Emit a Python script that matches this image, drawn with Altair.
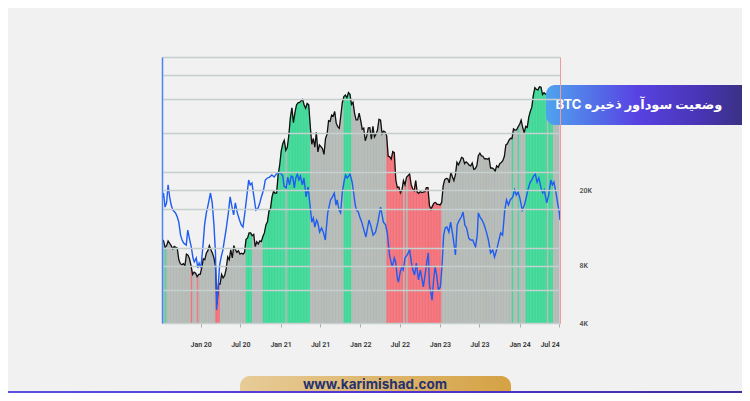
import altair as alt
import pandas as pd

# ---------------- data ----------------
# Weekly BTC price (thousand USD), Mondays starting 2019-07-08
price_2019 = [11.0, 10.8, 10.0, 10.2, 10.8, 10.5, 10.2, 9.8, 10.1, 10.0, 9.9, 8.6, 8.2,
              8.1, 8.2, 8.0, 9.2, 9.1, 8.7, 8.0, 7.2, 7.4, 7.3, 7.0, 7.2, 7.2]
price_2020 = [7.8, 8.7, 8.6, 9.3, 9.6, 10.2, 9.7, 9.3, 8.8, 7.9, 5.0, 6.4, 6.4,
              7.2, 6.9, 7.1, 7.7, 8.9, 8.6, 9.7, 8.8, 10.2, 9.7, 9.4, 9.6, 9.2,
              9.3, 9.2, 9.4, 11.0, 11.2, 11.9, 11.9, 11.5, 11.7, 10.1, 10.7, 10.4, 10.8,
              10.7, 11.4, 11.9, 13.1, 13.6, 15.5, 16.0, 18.4, 19.7, 19.2, 19.3, 24.0, 27.0]
price_2021 = [32.0, 35.0, 36.5, 32.3, 33.5, 38.9, 48.0, 54.0, 45.2, 51.0, 56.0, 57.4, 57.7,
              58.8, 59.8, 56.0, 53.8, 57.0, 56.0, 43.5, 34.8, 37.3, 33.6, 40.2, 31.7, 34.5,
              33.8, 33.0, 30.8, 37.3, 39.2, 46.3, 45.9, 49.5, 48.9, 51.7, 44.9, 43.0, 42.2,
              49.1, 57.5, 62.0, 63.1, 61.0, 65.0, 63.6, 56.3, 57.8, 50.6, 46.7, 46.7, 50.7]
price_2022 = [46.4, 41.8, 42.3, 36.3, 38.5, 42.4, 42.5, 37.0, 43.2, 38.0, 39.3, 41.3, 47.1,
              46.6, 39.5, 40.8, 40.4, 38.5, 30.1, 29.9, 29.1, 31.8, 31.4, 22.5, 20.6, 20.7,
              19.3, 20.0, 22.4, 21.3, 23.3, 23.8, 24.3, 21.4, 20.3, 19.8, 22.4, 19.5, 19.2,
              19.6, 19.4, 19.5, 19.6, 20.6, 20.6, 16.6, 15.8, 16.5, 17.1, 17.2, 16.8, 16.8]
price_2023 = [16.7, 17.2, 21.0, 22.7, 23.0, 22.9, 21.8, 24.8, 23.5, 22.4, 24.1, 28.0, 27.1,
              28.2, 29.7, 29.4, 27.5, 28.1, 27.7, 27.0, 26.8, 27.7, 25.7, 25.9, 26.8, 30.3,
              31.2, 30.2, 30.1, 29.2, 29.2, 29.0, 29.4, 26.1, 26.1, 25.8, 25.1, 26.8, 26.3,
              27.5, 27.9, 28.5, 30.0, 34.5, 35.0, 36.5, 37.4, 37.2, 41.9, 41.3, 41.4, 43.0]
price_2024 = [44.2, 46.6, 42.7, 39.9, 43.2, 42.7, 48.3, 51.8, 54.5, 63.1, 69.0, 67.6, 67.2,
              69.7, 69.4, 63.5, 64.9, 63.8, 63.2, 62.9, 66.3, 68.5, 67.8, 69.6, 66.6, 60.3, 62.7]

# Weekly profit state: g = profit (green), n = neutral (grey), r = loss (red)
state_2019 = ["nngn", "nnnn", "nnnnn", "nnnn", "nnrn", "nnrnn"]
state_2020 = ["nnnn", "nnnn", "nrrrn", "nnnn", "nnnn", "nnnnn", "nnng", "gggnn",
              "nnnn", "nggg", "ggggg", "gggg"]
state_2021 = ["gggn", "gggg", "ggggg", "gggg", "ggnnn", "nnnn", "nnnn", "nnnnn",
              "nnnn", "nngg", "gggnn", "nnnn"]
state_2022 = ["nnnnn", "nnnn", "nnnn", "nnnn", "rrrrr", "rrrr", "rrnr", "nrrrr",
              "rrrr", "rrrrr", "rrrr", "rrrr"]
state_2023 = ["rnnnn", "nnnn", "nnnn", "nnnn", "nnnnn", "nnnn", "nnnnn", "nnnn",
              "nnnn", "nnnnn", "nnng", "nnng"]
state_2024 = ["nnnng", "gggg", "gggg", "ggggg", "nggg", "nnnn", "n"]

# Blue indicator (percent of supply in profit, %)
blue_dates = [
    "2019-07-08", "2019-07-15", "2019-07-22", "2019-07-29", "2019-08-05", "2019-08-12",
    "2019-08-19", "2019-08-27", "2019-09-08", "2019-09-16", "2019-09-23", "2019-10-01",
    "2019-10-08", "2019-10-15", "2019-10-27", "2019-11-03", "2019-11-12", "2019-11-19",
    "2019-11-27", "2019-12-03", "2019-12-12", "2019-12-19", "2019-12-25", "2020-01-02",
    "2020-01-12", "2020-01-19", "2020-01-27", "2020-02-04", "2020-02-15", "2020-02-23",
    "2020-03-02", "2020-03-09", "2020-03-14", "2020-03-21", "2020-03-28", "2020-04-04",
    "2020-04-12", "2020-04-19", "2020-04-26", "2020-05-07", "2020-05-15", "2020-05-22",
    "2020-05-31", "2020-06-08", "2020-06-17", "2020-06-27", "2020-07-05", "2020-07-13",
    "2020-07-22", "2020-07-31", "2020-08-08", "2020-08-15", "2020-08-23", "2020-08-31",
    "2020-09-10", "2020-09-20", "2020-09-28", "2020-10-05", "2020-10-15", "2020-10-23",
    "2020-11-02", "2020-11-12", "2020-11-22", "2020-12-03", "2020-12-12", "2020-12-22",
    "2021-01-02", "2021-01-11", "2021-01-17", "2021-01-27", "2021-02-03", "2021-02-11",
    "2021-02-19", "2021-02-26", "2021-03-05", "2021-03-12", "2021-03-19", "2021-03-26",
    "2021-04-02", "2021-04-11", "2021-04-18", "2021-04-28", "2021-05-07", "2021-05-17",
    "2021-05-24", "2021-05-31", "2021-06-07", "2021-06-15", "2021-06-21", "2021-06-29",
    "2021-07-08", "2021-07-17", "2021-07-25", "2021-08-05", "2021-08-18", "2021-08-27",
    "2021-09-04", "2021-09-12", "2021-09-17", "2021-09-26", "2021-10-03", "2021-10-11",
    "2021-10-20", "2021-10-26", "2021-11-02", "2021-11-09", "2021-11-15", "2021-11-25",
    "2021-12-02", "2021-12-09", "2021-12-15", "2021-12-23", "2021-12-30", "2022-01-08",
    "2022-01-15", "2022-01-27", "2022-02-10", "2022-02-19", "2022-03-01", "2022-03-12",
    "2022-03-23", "2022-04-04", "2022-04-11", "2022-04-17", "2022-04-27", "2022-05-05",
    "2022-05-15", "2022-05-22", "2022-05-28", "2022-06-06", "2022-06-12", "2022-06-20",
    "2022-06-25", "2022-07-03", "2022-07-10", "2022-07-17", "2022-07-25", "2022-08-04",
    "2022-08-15", "2022-08-23", "2022-08-30", "2022-09-07", "2022-09-15", "2022-09-25",
    "2022-10-03", "2022-10-10", "2022-10-17", "2022-10-25", "2022-11-02", "2022-11-09",
    "2022-11-14", "2022-11-20", "2022-11-26", "2022-12-03", "2022-12-10", "2022-12-17",
    "2022-12-25", "2023-01-03", "2023-01-11", "2023-01-18", "2023-01-25", "2023-02-02",
    "2023-02-11", "2023-02-19", "2023-03-01", "2023-03-13", "2023-03-21", "2023-03-31",
    "2023-04-09", "2023-04-17", "2023-04-25", "2023-05-03", "2023-05-13", "2023-05-21",
    "2023-05-31", "2023-06-13", "2023-06-21", "2023-06-26", "2023-07-04", "2023-07-13",
    "2023-07-23", "2023-08-02", "2023-08-11", "2023-08-21", "2023-08-31", "2023-09-08",
    "2023-09-15", "2023-09-23", "2023-10-06", "2023-10-15", "2023-10-25", "2023-11-02",
    "2023-11-11", "2023-11-19", "2023-12-01", "2023-12-09", "2023-12-17", "2023-12-25",
    "2024-01-02", "2024-01-13", "2024-01-23", "2024-01-31", "2024-02-08", "2024-02-17",
    "2024-02-25", "2024-03-05", "2024-03-13", "2024-03-21", "2024-03-29", "2024-04-08",
    "2024-04-16", "2024-04-23", "2024-05-04", "2024-05-13", "2024-05-23", "2024-05-30",
    "2024-06-06", "2024-06-15", "2024-06-23", "2024-07-01", "2024-07-04",
]
blue_values = [
    88.2, 91.2, 85.1, 86.9, 94.7, 89.5, 86.0, 83.8, 82.6, 80.8, 78.6, 73.0,
    70.9, 69.6, 68.7, 75.2, 70.9, 67.9, 63.1, 61.4, 63.1, 58.8, 60.9, 58.8,
    68.7, 77.4, 82.6, 86.0, 91.2, 86.9, 77.4, 65.0, 40.6, 50.6, 60.1, 63.5,
    66.6, 70.9, 75.0, 82.6, 89.5, 86.0, 81.7, 86.9, 82.6, 79.5, 77.4, 76.5,
    83.0, 90.3, 96.8, 94.7, 95.5, 90.3, 83.8, 84.7, 86.9, 89.5, 92.5, 96.8,
    97.7, 98.1, 99.0, 98.1, 99.4, 99.8, 99.8, 98.5, 94.2, 93.4, 98.1, 94.7,
    98.5, 98.1, 93.4, 97.7, 99.4, 96.8, 98.5, 94.7, 97.7, 89.5, 93.8, 85.1,
    78.6, 80.4, 76.5, 79.5, 78.2, 74.3, 76.1, 73.9, 70.9, 82.6, 88.2, 89.5,
    91.2, 86.0, 88.2, 83.8, 82.6, 91.6, 96.8, 99.0, 97.7, 98.5, 99.4, 95.9,
    91.2, 86.0, 83.8, 83.0, 80.8, 78.6, 76.1, 72.2, 79.5, 76.9, 73.0, 74.3,
    78.6, 85.1, 81.7, 78.6, 77.4, 73.9, 64.4, 61.4, 59.2, 63.1, 61.4, 54.5,
    52.7, 57.0, 59.2, 57.9, 63.1, 64.4, 66.6, 61.4, 57.9, 55.8, 60.9, 53.6,
    57.9, 54.5, 50.6, 55.8, 61.4, 65.3, 51.5, 48.4, 44.9, 53.6, 59.2, 55.8,
    49.3, 50.6, 60.1, 73.0, 76.1, 76.5, 74.3, 78.6, 73.0, 64.4, 77.4, 79.5,
    80.8, 83.0, 77.4, 76.1, 71.7, 70.9, 70.9, 67.9, 73.0, 82.6, 80.8, 79.5,
    77.4, 74.3, 70.9, 65.3, 66.6, 63.5, 65.7, 68.7, 73.9, 73.0, 83.8, 88.2,
    86.0, 88.2, 89.5, 92.5, 90.3, 91.6, 89.1, 83.8, 86.0, 89.1, 92.5, 95.5,
    96.8, 98.5, 99.4, 95.9, 97.7, 93.4, 91.2, 92.5, 86.9, 90.3, 96.8, 94.7,
    95.9, 91.6, 86.9, 82.6, 79.5,
]

x_tick_dates = ["2020-01-01", "2020-07-01", "2021-01-01", "2021-07-01", "2022-01-01",
                "2022-07-01", "2023-01-01", "2023-07-01", "2024-01-01", "2024-07-01"]
x_domain_dates = ["2019-07-08", "2024-07-04"]
price_grid = [4000, 8000, 20000, 40000, 60000, 80000, 100000]
price_labels = {4000: "4K", 8000: "8K", 20000: "20K"}
blue_grid = [49.3, 67.4, 84.3, 100.3]

title_text = "وضعیت سودآور ذخیره BTC"
site_text = "www.karimishad.com"

# ---------------- tables ----------------
prices = [p * 1000 for p in price_2019 + price_2020 + price_2021 + price_2022 + price_2023 + price_2024]
states = "".join(state_2019 + state_2020 + state_2021 + state_2022 + state_2023 + state_2024)
weeks = pd.date_range("2019-07-08", periods=len(prices), freq="7D")
assert len(states) == len(prices)

line_df = pd.DataFrame({"date": weeks.strftime("%Y-%m-%d"), "price": prices})

seg_rows = []
for i in range(len(prices) - 1):
    for j in (i, i + 1):
        seg_rows.append({"seg": i, "date": weeks[j].strftime("%Y-%m-%d"),
                         "price": prices[j], "state": states[i]})
seg_df = pd.DataFrame(seg_rows)

blue_df = pd.DataFrame({"date": blue_dates, "pct": blue_values})


def ms(d):
    return int(pd.Timestamp(d).value // 10**6)


x_scale = alt.Scale(type="utc", domain=[ms(d) for d in x_domain_dates])
y_price_scale = alt.Scale(type="log", domain=[4000, 100000], nice=False)
y_blue_scale = alt.Scale(domain=[35, 150], nice=False, zero=False)

x_axis = alt.Axis(values=[ms(d) for d in x_tick_dates],
                  labelExpr="utcFormat(datum.value, '%b %y')",
                  grid=False, domainColor="#a9b0b0", domainWidth=1,
                  tickColor="#a9b0b0", tickSize=4, labelPadding=13,
                  labelFontSize=7, labelColor="#333333", labelFont="Roboto",
                  labelFontWeight=600, title=None)

label_expr = " : ".join(
    [f"datum.value == {v} ? '{t}'" for v, t in price_labels.items()]) + " : ''"
price_axis = alt.Axis(orient="right", values=price_grid, labelExpr=label_expr,
                      grid=True, gridColor="#c6d0cf", gridWidth=1.5,
                      ticks=False, domainColor="#f29a9a", domainWidth=1,
                      labelPadding=19, labelFontSize=7, labelColor="#555555",
                      labelFont="Roboto", labelFontWeight=600, labelAlign="left",
                      title=None, zindex=1)
blue_axis = alt.Axis(orient="left", values=blue_grid, labels=False, ticks=False,
                     grid=True, gridColor="#c6d0cf", gridWidth=1.5,
                     domainColor="#4a86f0", domainWidth=1.5, title=None, zindex=1)

state_scale = alt.Scale(domain=["g", "n", "r"], range=["#41d898", "#b5bab7", "#f3737b"])

area = alt.Chart(seg_df).mark_area(clip=True, interpolate="linear", strokeWidth=0.5).encode(
    x=alt.X("date:T", scale=x_scale, axis=x_axis),
    y=alt.Y("price:Q", scale=y_price_scale, axis=price_axis, stack=None),
    y2=alt.datum(4000),
    color=alt.Color("state:N", scale=state_scale, legend=None),
    stroke=alt.Stroke("state:N", scale=state_scale, legend=None),
    detail="seg:N",
)

black = alt.Chart(line_df).mark_line(color="#111111", strokeWidth=1.3, clip=True).encode(
    x=alt.X("date:T", scale=x_scale, axis=x_axis),
    y=alt.Y("price:Q", scale=y_price_scale, axis=price_axis),
)

blue = alt.Chart(blue_df).mark_line(color="#1f5cf2", strokeWidth=1.4, clip=True).encode(
    x=alt.X("date:T", scale=x_scale, axis=x_axis),
    y=alt.Y("pct:Q", scale=y_blue_scale, axis=blue_axis),
)

one = alt.Data(values=[{"k": 1}])

title_box = alt.Chart(one).mark_rect(
    cornerRadius=9,
    color=alt.Gradient(gradient="linear", x1=0, x2=1, y1=0, y2=0,
                       stops=[alt.GradientStop(color="#4fa3ee", offset=0),
                              alt.GradientStop(color="#5842e2", offset=0.42),
                              alt.GradientStop(color="#4834b4", offset=0.72),
                              alt.GradientStop(color="#34306c", offset=1)]),
).encode(x=alt.value(384), x2=alt.value(600), y=alt.value(28), y2=alt.value(68))

title_label = alt.Chart(one).mark_text(
    text="\u202b" + title_text + "\u202c", color="white", fontSize=13,
    fontWeight="bold", font="Inter, 'DejaVu Sans'", align="center", baseline="middle",
).encode(x=alt.value(477), y=alt.value(48))

gold = alt.Chart(one).mark_rect(
    cornerRadiusTopLeft=10, cornerRadiusTopRight=10,
    color=alt.Gradient(gradient="linear", x1=0, x2=1, y1=0, y2=0,
                       stops=[alt.GradientStop(color="#e7cc98", offset=0),
                              alt.GradientStop(color="#d5a244", offset=1)]),
).encode(x=alt.value(78), x2=alt.value(349), y=alt.value(319), y2=alt.value(345))

purple = alt.Chart(one).mark_rect(
    color=alt.Gradient(gradient="linear", x1=0, x2=1, y1=0, y2=0,
                       stops=[alt.GradientStop(color="#5a52e4", offset=0),
                              alt.GradientStop(color="#5234d6", offset=0.5),
                              alt.GradientStop(color="#3f2f9c", offset=1)]),
).encode(x=alt.value(-170), x2=alt.value(600), y=alt.value(334), y2=alt.value(350))

site_label = alt.Chart(one).mark_text(
    text=site_text, color="#27316e", fontSize=13.5, fontWeight="bold",
    font="Inter", align="center", baseline="middle",
).encode(x=alt.value(213), y=alt.value(328))

price_layer = alt.layer(area, black)
chart = alt.layer(price_layer, blue, title_box, title_label, gold, purple, site_label).resolve_scale(
    y="independent"
).properties(
    width=398, height=266,
    autosize=alt.AutoSizeParams(type="none"),
    padding={"left": 154, "top": 49, "right": 182, "bottom": 70},
).configure(background="#f1f1f1").configure_view(stroke=None)

chart.save("out.html", embed_options={"renderer": "svg", "actions": False})
